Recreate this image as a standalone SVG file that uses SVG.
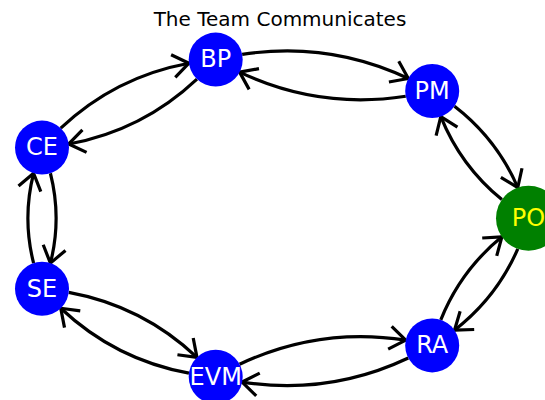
<svg xmlns="http://www.w3.org/2000/svg" width="545" height="400" viewBox="0 0 545 400">
  <style>
    .edges path { fill: none; stroke: #000; stroke-width: 3.2; stroke-linecap: butt; }
    .edges polyline { fill: none; stroke: #000; stroke-width: 3.2; stroke-linecap: butt; stroke-linejoin: round; }
    .node circle { fill: #0000ff; }
    .node text { font-family: "DejaVu Sans", "Liberation Sans", sans-serif; font-size: 24px; fill: #ffffff; text-anchor: middle; }
    #node-PO circle { fill: #008000; }
    #node-PO text { fill: #ffff00; }
    .title { font-family: "DejaVu Sans", "Liberation Sans", sans-serif; font-size: 20px; fill: #000; text-anchor: middle; }
  </style>
  <rect width="545" height="400" fill="#ffffff"/>

  <text class="title" x="280" y="26">The Team Communicates</text>

  <!-- directed edges: quadratic arcs bending to the left of travel, open arrowheads at targets -->
  <g id="edges" class="edges">
    <!-- PM -> PO -->
    <path d="M454.50,106.22 Q496.75,138.84 517.78,187.52"/>
    <polyline points="500.87,177.39 517.78,187.52 521.99,168.27"/>
    <!-- PO -> PM -->
    <path d="M501.88,199.56 Q460.74,166.11 440.80,116.60"/>
    <polyline points="457.45,127.14 440.80,116.60 436.11,135.74"/>
    <!-- PM -> BP -->
    <path d="M405.73,96.25 Q318.96,109.70 239.59,72.15"/>
    <polyline points="258.98,68.59 239.59,72.15 249.14,89.39"/>
    <!-- BP -> PM -->
    <path d="M242.17,54.35 Q328.94,40.90 408.31,78.45"/>
    <polyline points="388.92,82.01 408.31,78.45 398.76,61.21"/>
    <!-- BP -> CE -->
    <path d="M196.96,79.04 Q142.44,130.43 68.76,143.98"/>
    <polyline points="82.42,129.78 68.76,143.98 86.58,152.40"/>
    <!-- CE -> BP -->
    <path d="M60.74,128.16 Q115.26,76.77 188.94,63.22"/>
    <polyline points="175.28,77.42 188.94,63.22 171.12,54.80"/>
    <!-- CE -> SE -->
    <path d="M50.40,173.26 Q61.84,218.20 50.40,263.14"/>
    <polyline points="43.21,244.79 50.40,263.14 65.49,250.47"/>
    <!-- SE -> CE -->
    <path d="M33.60,263.14 Q22.16,218.20 33.60,173.26"/>
    <polyline points="40.79,191.61 33.60,173.26 18.51,185.93"/>
    <!-- SE -> EVM -->
    <path d="M68.76,292.42 Q142.44,305.97 196.96,357.36"/>
    <polyline points="177.43,354.75 196.96,357.36 193.21,338.01"/>
    <!-- EVM -> SE -->
    <path d="M188.94,373.18 Q115.26,359.63 60.74,308.24"/>
    <polyline points="80.27,310.85 60.74,308.24 64.49,327.59"/>
    <!-- EVM -> RA -->
    <path d="M239.59,364.25 Q318.96,326.70 405.73,340.15"/>
    <polyline points="388.16,349.07 405.73,340.15 391.68,326.33"/>
    <!-- RA -> EVM -->
    <path d="M408.31,357.95 Q328.94,395.50 242.17,382.05"/>
    <polyline points="259.74,373.13 242.17,382.05 256.22,395.87"/>
    <!-- RA -> PO -->
    <path d="M440.80,319.80 Q460.73,270.29 501.88,236.84"/>
    <polyline points="496.72,255.85 501.88,236.84 482.22,238.01"/>
    <!-- PO -> RA -->
    <path d="M517.78,248.88 Q496.74,297.56 454.50,330.18"/>
    <polyline points="460.13,311.30 454.50,330.18 474.19,329.50"/>
  </g>

  <g id="node-PO" class="node">
    <circle cx="528.5" cy="218.2" r="32.5"/>
    <text x="528.5" y="225.9">PO</text>
  </g>
  <g id="node-PM" class="node">
    <circle cx="432.2" cy="91" r="27"/>
    <text x="432.2" y="98.7">PM</text>
  </g>
  <g id="node-BP" class="node">
    <circle cx="215.7" cy="59.6" r="27"/>
    <text x="215.7" y="67.3">BP</text>
  </g>
  <g id="node-CE" class="node">
    <circle cx="42" cy="147.6" r="27"/>
    <text x="42" y="155.3">CE</text>
  </g>
  <g id="node-SE" class="node">
    <circle cx="42" cy="288.8" r="27"/>
    <text x="42" y="296.5">SE</text>
  </g>
  <g id="node-EVM" class="node">
    <circle cx="215.7" cy="376.8" r="27"/>
    <text x="215.7" y="384.5">EVM</text>
  </g>
  <g id="node-RA" class="node">
    <circle cx="432.2" cy="345.4" r="27"/>
    <text x="432.2" y="353.1">RA</text>
  </g>
</svg>
